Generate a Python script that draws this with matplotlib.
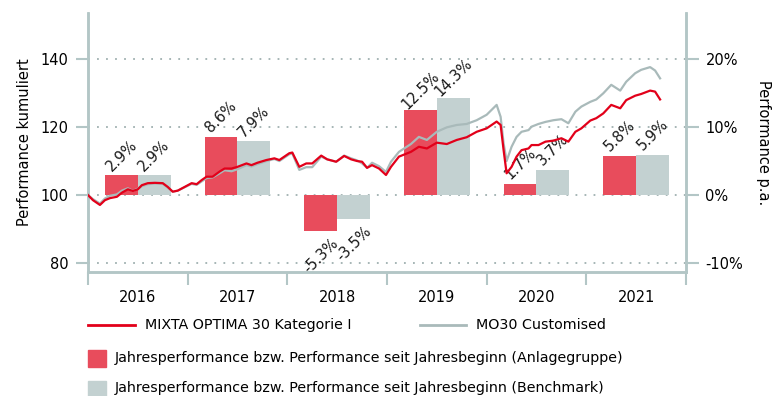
import matplotlib
matplotlib.use("Agg")
import matplotlib.pyplot as plt
from matplotlib.lines import Line2D
from matplotlib.patches import Rectangle

# cumulative performance (indexed to 100), time in fractional years
t = [2016.00, 2016.05, 2016.12, 2016.17, 2016.22, 2016.29, 2016.34, 2016.40,
     2016.45, 2016.50, 2016.54, 2016.60, 2016.67, 2016.75, 2016.80, 2016.85,
     2016.90, 2016.97, 2017.04, 2017.09, 2017.14, 2017.19, 2017.25, 2017.32,
     2017.37, 2017.44, 2017.50, 2017.59, 2017.64, 2017.70, 2017.79, 2017.87,
     2017.92, 2018.02, 2018.05, 2018.12, 2018.19, 2018.25, 2018.34, 2018.40,
     2018.49, 2018.57, 2018.64, 2018.70, 2018.75, 2018.80, 2018.85, 2018.92,
     2018.99, 2019.04, 2019.12, 2019.24, 2019.32, 2019.40, 2019.50, 2019.60,
     2019.70, 2019.80, 2019.90, 2020.00, 2020.10, 2020.14, 2020.17, 2020.20,
     2020.25, 2020.30, 2020.35, 2020.42, 2020.45, 2020.52, 2020.59, 2020.67,
     2020.75, 2020.82, 2020.89, 2020.95, 2021.04, 2021.10, 2021.17, 2021.25,
     2021.34, 2021.40, 2021.49, 2021.55, 2021.64, 2021.69, 2021.74]

fund = [100.0, 98.5, 97.1, 98.5, 99.1, 99.5, 100.7, 101.7,
        101.2, 101.7, 102.9, 103.5, 103.6, 103.5, 102.4, 101.0,
        101.3, 102.4, 103.5, 103.2, 104.4, 105.4, 105.4, 106.9,
        107.8, 107.8, 108.3, 109.3, 108.8, 109.5, 110.3, 110.8,
        110.3, 112.3, 112.5, 108.3, 109.3, 109.3, 111.6, 110.5,
        109.8, 111.5, 110.5, 110.0, 109.8, 108.0, 108.8, 107.8,
        105.9, 108.3, 111.3, 112.7, 114.2, 113.7, 115.4, 115.0,
        116.2, 117.0, 118.6, 119.6, 121.6, 120.6, 113.2, 106.4,
        108.3, 111.3, 113.2, 113.7, 114.7, 114.7, 115.7, 116.0,
        116.7, 115.7, 118.6, 119.6, 121.9, 122.6, 124.0, 126.5,
        125.5, 127.9, 129.2, 129.7, 130.7, 130.4, 128.1]

bench = [100.0, 98.8, 97.5, 99.0, 99.8, 100.2, 101.3, 102.0,
         101.2, 101.9, 102.6, 103.2, 103.4, 103.3, 102.2, 101.0,
         101.3, 102.3, 103.3, 103.0, 104.0, 105.0, 105.2, 106.4,
         107.3, 107.0, 107.6, 108.8, 108.4, 109.1, 110.0, 110.6,
         110.0, 112.0, 112.2, 107.4, 108.2, 108.2, 111.3, 110.5,
         109.8, 111.6, 110.8, 110.2, 109.3, 108.0, 109.5, 108.5,
         106.8, 109.8, 112.7, 115.0, 117.1, 116.2, 118.6, 119.9,
         120.6, 120.9, 122.0, 123.6, 126.5, 123.0, 115.2, 110.0,
         114.2, 117.1, 118.6, 119.1, 120.1, 120.9, 121.5, 122.0,
         122.3, 121.1, 124.5, 126.0, 127.4, 128.1, 129.9, 132.4,
         130.7, 133.3, 135.8, 136.8, 137.6, 136.6, 134.3]

# yearly performance in %
years = [2016, 2017, 2018, 2019, 2020, 2021]
perf_fund = [2.9, 8.6, -5.3, 12.5, 1.7, 5.8]
perf_bench = [2.9, 7.9, -3.5, 14.3, 3.7, 5.9]

RED_LINE = "#e2001a"
GREY_LINE = "#a9baba"
RED_BAR = "#e84c5c"
GREY_BAR = "#c3d1d1"
AXIS = "#b3c6c6"

plt.rcParams["font.family"] = "DejaVu Sans"
plt.rcParams["font.size"] = 10

fig = plt.figure(figsize=(7.78, 3.96), dpi=100)
ax1 = fig.add_axes([88 / 778, 1 - 272 / 396, (686 - 88) / 778, (272 - 13) / 396])
ax2 = ax1.twinx()
ax1.set_zorder(ax2.get_zorder() + 1)
ax1.patch.set_visible(False)

y_lo, y_hi = 77.4, 153.5
ax1.set_ylim(y_lo, y_hi)
ax2.set_ylim((y_lo - 100) / 2, (y_hi - 100) / 2)
ax1.set_xlim(2016, 2022)

# bars on the % axis
w = 0.33
centers = [y + 0.5 for y in years]
ax2.bar([c - w / 2 for c in centers], perf_fund, width=w, color=RED_BAR, zorder=2)
ax2.bar([c + w / 2 for c in centers], perf_bench, width=w, color=GREY_BAR, zorder=2)
for c, a, b in zip(centers, perf_fund, perf_bench):
    for x, v in ((c - w / 2, a), (c + w / 2, b)):
        off = 20 if v >= 0 else -25
        ax2.annotate(f"{v:.1f}%", (x, v), xytext=(0, off), textcoords="offset pixels",
                     rotation=45, ha="center", va="center", fontsize=10.5,
                     color="#1a1a1a", zorder=3)

ax2.set_yticks([-10, 0, 10, 20])
ax2.set_yticklabels(["-10%", "0%", "10%", "20%"])
ax2.grid(axis="y", linestyle=(0, (1, 4)), color="#9fb0b0", linewidth=1.3)
ax2.set_axisbelow(True)

ax1.plot(t, bench, color=GREY_LINE, lw=1.6, zorder=3)
ax1.plot(t, fund, color=RED_LINE, lw=1.6, zorder=4)

ax1.set_yticks([80, 100, 120, 140])
ax1.set_xticks(range(2016, 2023))
ax1.set_xticklabels([])
ax1.set_xticks(centers, minor=True)
ax1.set_xticklabels([str(y) for y in years], minor=True)
ax1.tick_params(axis="x", which="minor", length=0, pad=13, labelsize=10.5)
ax1.tick_params(axis="x", which="major", length=9, width=1.5, color=AXIS)
ax1.tick_params(axis="y", length=9, width=1.5, color=AXIS, labelsize=10.5, pad=5)
ax2.tick_params(axis="y", length=9, width=1.5, color=AXIS, labelsize=10.5, pad=5)

for ax in (ax1, ax2):
    ax.spines["top"].set_visible(False)
    for s in ("left", "right", "bottom"):
        ax.spines[s].set_color(AXIS)
        ax.spines[s].set_linewidth(1.8)

ax1.set_ylabel("Performance kumuliert", fontsize=10.5, labelpad=6)
ax2.set_ylabel("Performance p.a.", fontsize=10.5, rotation=270, labelpad=20)

# legend below the plot
def fx(px):
    return px / 778

def fy(py):
    return 1 - py / 396

fig.add_artist(Line2D([fx(88), fx(135)], [fy(325), fy(325)], color=RED_LINE, lw=2))
fig.text(fx(145), fy(325), "MIXTA OPTIMA 30 Kategorie I", va="center", fontsize=10.3)
fig.add_artist(Line2D([fx(420), fx(466)], [fy(325), fy(325)], color=GREY_LINE, lw=2))
fig.text(fx(476), fy(325), "MO30 Customised", va="center", fontsize=10.3)

fig.add_artist(Rectangle((fx(88), fy(367)), 18 / 778, 17 / 396, color=RED_BAR))
fig.text(fx(115), fy(358), "Jahresperformance bzw. Performance seit Jahresbeginn (Anlagegruppe)",
         va="center", fontsize=10.3)
fig.add_artist(Rectangle((fx(88), fy(398)), 18 / 778, 17 / 396, color=GREY_BAR))
fig.text(fx(115), fy(388), "Jahresperformance bzw. Performance seit Jahresbeginn (Benchmark)",
         va="center", fontsize=10.3)

fig.savefig("out.png", dpi=100)
